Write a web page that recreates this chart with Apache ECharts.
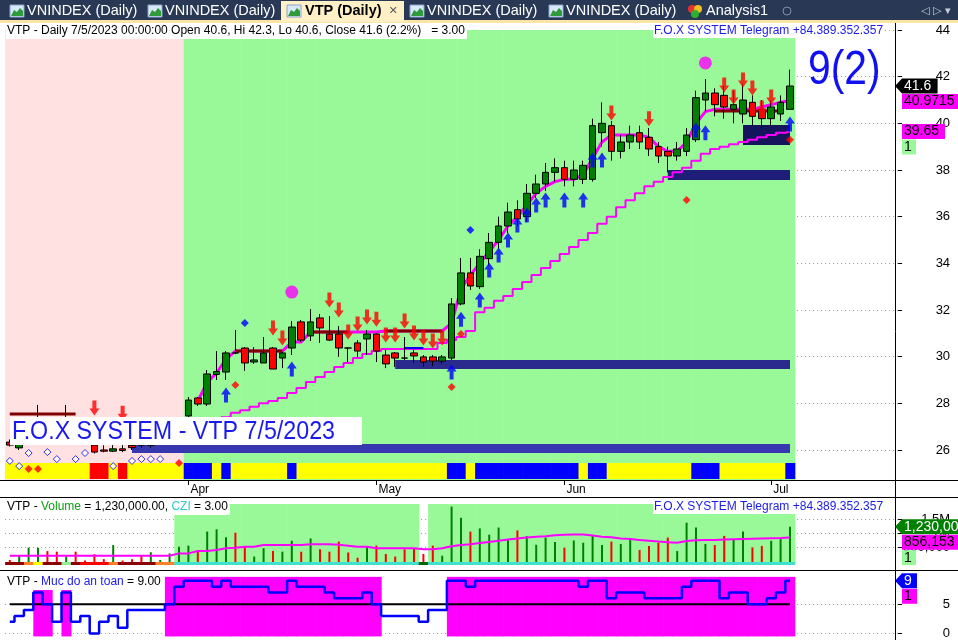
<!DOCTYPE html>
<html>
<head>
<meta charset="utf-8">
<script src="https://cdn.jsdelivr.net/npm/echarts@6/dist/echarts.min.js"></script>
<style>
  html, body { margin: 0; padding: 0; background: #fff; }
  #chart { width: 958px; height: 640px; }
</style>
</head>
<body>
<div id="chart"></div>
<script>
// trading days shown on the chart
const marDays = [7, 8, 9, 10, 13, 14, 15, 16, 17, 20, 21, 22, 23, 24, 27, 28, 29, 30, 31]
const aprDays = [3, 4, 5, 6, 7, 10, 11, 12, 13, 14, 17, 18, 19, 20, 21, 24, 25, 26, 27, 28]
const mayDays = [4, 5, 8, 9, 10, 11, 12, 15, 16, 17, 18, 19, 22, 23, 24, 25, 26, 29, 30, 31]
const junDays = [1, 2, 5, 6, 7, 8, 9, 12, 13, 14, 15, 16, 19, 20, 21, 22, 23, 26, 27, 28, 29, 30]
const julDays = [3, 4, 5]
const monthNames = ['Mar', 'Apr', 'May', 'Jun', 'Jul']
const emptySlots = 11

const opens = [
  26.34, 26.09, 26.8, 27.0, 27.3, 27.0, 26.9, 27.3, 26.9, 26.21, 26.0, 25.95, 26.05, 26.2, 26.3, 26.2, 26.5, 26.7, 26.9,
  27.46, 28.23, 27.97, 29.24, 29.34, 30.16, 30.37, 29.77, 29.73, 30.37, 29.94, 30.37, 31.49, 30.89, 31.66, 30.97,
  30.97, 30.37, 30.59, 30.76, 30.97, 30.07, 30.16, 29.94, 30.16, 29.99, 29.99, 29.81, 29.94, 32.26, 33.59,
  33.0, 34.2, 34.9, 35.6, 36.3, 36.0, 37.0, 37.4, 37.9, 38.1, 37.6, 37.6, 37.6, 39.6, 39.9, 38.8, 39.2,
  39.6, 39.4, 39.0, 38.8, 38.6, 38.8, 39.3, 41.0, 41.3, 41.2, 40.6, 40.4, 40.9, 40.6, 40.2, 40.4, 40.6,
]
const highs = [
  26.45, 26.35, 27.3, 27.93, 27.35, 27.2, 27.93, 27.35, 27.0, 26.5, 26.2, 26.21, 26.21, 26.4, 26.5, 26.6, 26.8, 27.1, 27.35,
  28.27, 28.27, 29.43, 30.24, 30.24, 31.14, 30.41, 30.41, 30.84, 30.41, 30.2, 31.53, 31.57, 32.04, 31.83, 31.74,
  31.31, 30.41, 30.71, 31.14, 31.0, 30.29, 30.2, 30.84, 30.41, 30.07, 30.07, 30.07, 32.51, 34.23, 34.23,
  34.6, 35.3, 36.0, 36.6, 36.7, 37.4, 37.8, 38.3, 38.5, 38.4, 38.4, 38.4, 40.2, 40.9, 40.1, 39.5, 39.9,
  39.9, 39.8, 39.2, 39.0, 39.2, 39.8, 41.4, 41.9, 41.5, 41.6, 41.4, 41.7, 41.2, 41.0, 41.0, 41.2, 42.3,
]
const lows = [
  26.15, 26.0, 26.7, 26.9, 26.9, 26.7, 26.8, 26.8, 26.4, 25.85, 25.9, 25.91, 25.91, 26.0, 26.1, 26.1, 26.4, 26.6, 26.8,
  27.37, 27.89, 27.89, 29.0, 29.0, 30.11, 29.39, 29.69, 29.73, 29.47, 29.51, 30.07, 30.63, 30.67, 30.59, 30.67,
  29.99, 29.77, 29.99, 30.07, 29.77, 29.51, 29.56, 29.86, 29.73, 29.56, 29.6, 29.7, 29.86, 32.2, 32.86,
  32.9, 33.9, 34.6, 35.3, 35.6, 35.8, 36.8, 37.1, 37.5, 37.3, 37.3, 37.4, 37.5, 39.0, 38.4, 38.5, 38.9,
  38.9, 38.6, 38.3, 37.9, 38.4, 38.6, 39.2, 40.5, 40.3, 40.2, 40.0, 40.0, 39.9, 39.8, 39.9, 40.1, 40.6,
]
const closes = [
  26.21, 26.3, 27.2, 27.35, 27.0, 26.8, 27.3, 26.9, 26.5, 25.91, 25.95, 26.05, 25.98, 26.1, 26.2, 26.5, 26.7, 27.0, 27.3,
  28.14, 27.97, 29.26, 29.36, 30.16, 30.16, 29.73, 29.86, 30.16, 29.47, 30.16, 31.27, 30.71, 31.49, 31.23, 30.71,
  30.37, 30.37, 30.24, 30.97, 30.24, 29.69, 29.94, 29.94, 30.03, 29.77, 29.81, 29.99, 32.26, 33.59, 33.03,
  34.3, 34.9, 35.6, 36.2, 35.9, 37.0, 37.4, 37.9, 38.1, 37.6, 38.0, 38.2, 39.9, 40.0, 38.8, 39.2, 39.5,
  39.2, 38.9, 38.6, 38.6, 38.9, 39.5, 41.1, 41.3, 40.8, 40.7, 40.8, 41.0, 40.3, 40.2, 40.7, 40.9, 41.6,
]

// stepped trailing stop and the line that hugs price
const trailStop = [
  null, null, null, null, null, null, null, null, null, null, null, null, null, null, null, null, null, null, null,
  null, null, null, 27.3, 27.4, 27.6, 27.7, 27.85, 28.0, 28.1, 28.23, 28.44, 28.66, 28.91, 29.13, 29.34,
  29.56, 29.73, 29.94, 30.11, 30.24, 30.33, 30.33, 30.33, 30.33, 30.33, 30.33, 30.59, 30.71, 30.84, 31.1,
  31.9, 32.1, 32.4, 32.6, 32.9, 33.2, 33.5, 33.8, 34.1, 34.4, 34.7, 35.0, 35.3, 35.7, 36.0, 36.4, 36.7,
  37.0, 37.3, 37.5, 37.7, 37.9, 38.1, 38.4, 38.7, 38.9, 39.0, 39.1, 39.2, 39.3, 39.4, 39.5, 39.6, 39.65,
]
const midLine = [
  null, null, null, null, null, null, null, null, null, null, null, null, null, null, null, null, null, null, null,
  null, 28.1, 28.9, 29.3, 29.9, 30.24, 30.24, 30.24, 30.24, 30.24, 30.24, 30.63, 30.63, 31.06, 31.06, 31.06,
  31.06, 31.06, 31.06, 31.06, 31.06, 31.1, 31.1, 31.1, 31.1, 31.1, 31.1, 31.1, 31.44, 32.9, 33.5,
  34.0, 34.5, 35.0, 35.6, 36.0, 36.5, 37.0, 37.3, 37.5, 37.6, 37.6, 37.8, 38.5, 39.2, 39.5, 39.5, 39.5,
  39.5, 39.4, 39.0, 38.8, 38.8, 39.2, 40.0, 40.5, 40.6, 40.6, 40.6, 40.6, 40.6, 40.7, 40.8, 40.9, 40.9715,
]
// dark red flat segments: [first bar, last bar, level]
const resistLines = [[0, 7, 27.54], [24, 29, 30.24], [32, 36, 31.06], [40, 46, 31.1], [75, 82, 40.53]]
const blueLines = [[42, 44, 30.37]]
// navy zones: [first bar, last bar, low, high]
const zones = [[13, 83, 25.87, 26.26], [41, 83, 29.47, 29.86], [70, 83, 37.57, 38.0], [78, 83, 39.07, 39.93]]

const sellArrows = [[9, 27.8], [12, 27.58], [28, 31.23], [29, 30.8], [34, 32.43], [35, 32.0], [36, 31.06],
  [37, 31.4], [38, 31.7], [39, 31.6], [40, 30.93], [41, 30.93], [42, 31.53], [43, 31.01], [44, 30.8],
  [45, 30.67], [46, 30.8], [64, 40.44], [68, 40.2], [76, 41.64], [77, 41.13], [78, 41.86], [79, 41.51],
  [80, 40.66], [81, 41.13]]
const buyArrows = [[23, 28.36], [30, 29.47], [47, 29.34], [48, 31.6], [50, 32.43], [51, 33.71], [52, 34.36],
  [53, 35.0], [54, 35.64], [55, 36.07], [56, 36.5], [57, 36.71], [59, 36.71], [61, 36.71], [62, 38.43],
  [63, 38.43], [73, 39.71], [74, 39.6], [83, 39.97]]
const redDots = [[24, 28.79], [47, 28.7], [48, 30.97], [72, 36.71], [83, 39.3], [2, 25.19], [3, 25.19],
  [18, 25.44], [11, 24.7]]
const blueDots = [[25, 31.44], [49, 35.43]]
const hollowDots = [[0, 25.53], [1, 25.31], [2, 25.87], [4, 25.91], [5, 25.61], [7, 25.61], [8, 25.87],
  [11, 25.31], [13, 25.53], [14, 25.61], [15, 25.61], [16, 25.61]]
const bigDots = [[30, 32.77], [74, 42.59]]

// background and state bands, one code per bar
const bgZone = 'PPPPPPPPPPPPPPPPPPP' + 'GGGGGGGGGGGGGGGGGGGGGGGGGGGGGGGGGGGGGGGGGGGGGGGGGGGGGGGGGGGGGGGGG'
const bandCode = ['YYYYYYYYY', 'RR', 'Y', 'R', 'YYYYYY', 'BBB', 'Y', 'B', 'YYYYYY', 'B', 'YYYYYYYYYYYYYYYY',
  'BB', 'Y', 'BBBBBBBBBBB', 'Y', 'BB', 'YYYYYYYYY', 'BBB', 'YYYYYYY', 'B'].join('')
const volBand = ['DD', 'O', 'Y', 'DD', 'L', 'D', 'RRR', 'O', 'DDDD', 'OO', 'TTTTTTTTTTTTTTTTTTTTTTTTTT', 'G',
  'TTTTTTTTTTTTTTTTTTTTTTTTTTTTTTTTTTTTTTT'].join('')

const volumes = [
  70000, 210000, 500000, 500000, 380000, 360000, 190000, 360000, 50000, 270000, 100000, 590000, 50000,
  100000, 220000, 340000, 70000, 300000, 530000, 570000, 360000, 1060000, 1140000, 860000, 1020000,
  530000, 190000, 480000, 380000, 360000, 740000, 360000, 820000, 440000, 360000, 710000, 330000,
  150000, 530000, 570000, 280000, 190000, 440000, 480000, 280000, 570000, 220000, 1930000, 1540000,
  1060000, 1170000, 950000, 1200000, 800000, 1100000, 900000, 600000, 850000, 700000, 500000, 750000,
  670000, 910000, 590000, 710000, 630000, 770000, 420000, 560000, 670000, 850000, 380000, 1370000,
  1200000, 630000, 590000, 910000, 800000, 1060000, 510000, 560000, 740000, 800000, 1230000,
]
const volAvg = [
  220000, 220000, 220000, 220000, 220000, 220000, 220000, 220000, 220000, 220000, 220000, 220000, 220000,
  220000, 220000, 220000, 220000, 220000, 300000, 300000, 380000, 380000, 420000, 480000, 500000, 530000,
  530000, 590000, 590000, 590000, 590000, 590000, 620000, 620000, 620000, 600000, 570000, 530000, 530000,
  480000, 480000, 480000, 480000, 480000, 440000, 440000, 480000, 550000, 590000, 620000, 660000, 700000,
  740000, 780000, 820000, 850000, 880000, 900000, 930000, 950000, 960000, 960000, 920000, 880000, 860000,
  820000, 800000, 770000, 740000, 710000, 690000, 670000, 730000, 760000, 770000, 770000, 780000, 790000,
  800000, 810000, 820000, 830000, 840000, 856153,
]
const safety = [2, 3, 4, 7, 5, 2, 7, 2, 3, 0, 2, 3, 1, 4, 4, 4, 4, 5, 8, 9, 9, 9, 8, 9, 8, 8, 8, 8, 7, 7, 9, 8,
  8, 8, 7, 6, 6, 6, 7, 5, 3, 3, 3, 3, 2, 4, 4, 9, 9, 8, 9, 9, 9, 9, 9, 9, 9, 9, 9, 9, 9, 8, 9, 9, 6, 7,
  7, 7, 6, 6, 6, 6, 8, 9, 9, 9, 6, 7, 7, 5, 5, 6, 7, 9]

const priceTicks = [26, 28, 30, 32, 34, 36, 38, 40, 42, 44]
const volTicks = [500000, 1000000, 1500000]
const safetyTicks = [0, 5]

// ---- derived lookups ----
const dates = []
const monthStart = {}
;[marDays, aprDays, mayDays, junDays, julDays].forEach((days, m) => {
  days.forEach((d, k) => {
    if (k === 0 && dates.length > 0) monthStart[dates.length] = monthNames[m]
    dates.push(m + 3 + '/' + d + '/2023')
  })
})
const nBars = dates.length
const categories = dates.concat(Array.from({ length: emptySlots }, (_, k) => 'pad' + k))

const bgColors = { P: '#FFE1E1', G: '#99F999' }
const bandColors = { Y: '#FFFF00', B: '#0000FF', R: '#FF0000' }
const volBandColors = { D: '#8B0000', O: '#FF7F27', Y: '#FFFF00', L: '#90EE90', R: '#FF0000', T: '#40E0D0', G: '#006400' }
const FONT = '"Liberation Sans", Arial, sans-serif'

const segSeries = (segs) => {
  const arr = new Array(nBars).fill(null)
  segs.forEach(([a, b, v]) => { for (let i = a; i <= b; i++) arr[i] = v })
  return arr
}
const idxData = (s) => s.split('').map((c, i) => [i, 0])

const L = 5.1, R = 59.9
const chart = echarts.init(document.getElementById('chart'))

const catAxis = (gridIndex, extra) => Object.assign({
  type: 'category', gridIndex, data: categories, boundaryGap: true,
  axisLine: { show: false }, axisTick: { show: false }, axisLabel: { show: false }, splitLine: { show: false },
}, extra)

const rightAxis = (gridIndex, min, max, ticks, fmt) => ({
  type: 'value', gridIndex, position: 'right', min, max, scale: true,
  axisLine: { show: false },
  axisTick: { show: !!ticks, customValues: ticks, length: 4, lineStyle: { color: '#000' } },
  axisLabel: {
    show: !!ticks, customValues: ticks, align: 'right', margin: 52, color: '#000',
    fontSize: 13, fontFamily: FONT, formatter: fmt,
  },
  splitLine: { show: !!ticks, lineStyle: { color: '#9a9a9a', type: [1, 3] } },
})

const arrowDown = 'path://M3,0 L7,0 L7,8 L10,8 L5,15 L0,8 L3,8 Z'
const arrowUp = 'path://M5,0 L10,7 L7,7 L7,15 L3,15 L3,7 L0,7 Z'

const option = {
  animation: false,
  backgroundColor: '#fff',
  grid: [
    { left: L, right: R, top: 22, height: 458 },
    { left: L, right: R, top: 463, height: 17 },
    { left: L, right: R, top: 504, height: 58 },
    { left: L, right: R, top: 572, height: 68 },
  ],
  xAxis: [
    catAxis(0),
    catAxis(1, {
      axisTick: {
        show: true, alignWithLabel: true, length: 5, lineStyle: { color: '#000' },
        interval: (i) => monthStart[i] !== undefined,
      },
      axisLabel: {
        show: true, interval: (i) => monthStart[i] !== undefined, formatter: (v, i) => monthStart[i] || '',
        align: 'left', margin: 4, color: '#000', fontSize: 12, fontFamily: FONT, padding: [0, 0, 0, 2],
      },
    }),
    catAxis(2),
    catAxis(3),
  ],
  yAxis: [
    rightAxis(0, 24.714, 44.343, priceTicks),
    { type: 'value', gridIndex: 1, min: 0, max: 1, show: false },
    rightAxis(2, 0, 2020000, volTicks, (v) => (v >= 1000000 ? v / 1000000 + 'M' : v.toLocaleString('en-US'))),
    rightAxis(3, -0.8333, 10.5, safetyTicks),
  ],
  series: [
    {
      type: 'custom', xAxisIndex: 0, yAxisIndex: 0, z: 1, silent: true, data: idxData(bgZone),
      renderItem(params, api) {
        const i = api.value(0)
        const top = api.coord([i, 44])
        const w = api.size([1, 0])[0]
        const cs = params.coordSys
        return {
          type: 'rect',
          shape: { x: top[0] - w / 2, y: top[1], width: w + 0.6, height: cs.y + cs.height - top[1] },
          style: { fill: bgColors[bgZone[params.dataIndex]] },
        }
      },
    },
    {
      type: 'custom', xAxisIndex: 0, yAxisIndex: 0, z: 2, silent: true, data: zones,
      renderItem(params, api) {
        const a = api.coord([api.value(0), api.value(3)])
        const b = api.coord([api.value(1), api.value(2)])
        const colors = ['#3737B0', '#2A2A8E', '#1E1E78', '#15155E']
        return {
          type: 'rect', shape: { x: a[0], y: a[1], width: b[0] - a[0], height: b[1] - a[1] },
          style: { fill: colors[params.dataIndex] },
        }
      },
    },
    {
      name: 'Trail', type: 'line', xAxisIndex: 0, yAxisIndex: 0, z: 3, data: trailStop, step: 'middle',
      symbol: 'none', lineStyle: { color: '#FF00FF', width: 2 },
    },
    {
      name: 'Mid', type: 'line', xAxisIndex: 0, yAxisIndex: 0, z: 3, data: midLine,
      symbol: 'none', lineStyle: { color: '#FF00FF', width: 3 },
    },
    {
      type: 'line', xAxisIndex: 0, yAxisIndex: 0, z: 4, data: segSeries(resistLines),
      symbol: 'none', lineStyle: { color: '#800000', width: 3 },
    },
    {
      type: 'line', xAxisIndex: 0, yAxisIndex: 0, z: 4, data: segSeries(blueLines),
      symbol: 'none', lineStyle: { color: '#0000FF', width: 2 },
    },
    {
      name: 'VTP', type: 'candlestick', xAxisIndex: 0, yAxisIndex: 0, z: 5, barWidth: 7,
      data: opens.map((o, i) => [o, closes[i], lows[i], highs[i]]),
      itemStyle: { color: '#008000', color0: '#FF0000', borderColor: '#000', borderColor0: '#000', borderWidth: 1 },
    },
    {
      type: 'scatter', xAxisIndex: 0, yAxisIndex: 0, z: 6, data: sellArrows, symbol: arrowDown,
      symbolSize: [10, 15], itemStyle: { color: '#FF0000' },
    },
    {
      type: 'scatter', xAxisIndex: 0, yAxisIndex: 0, z: 6, data: buyArrows, symbol: arrowUp,
      symbolSize: [10, 15], itemStyle: { color: '#0000FF' },
    },
    {
      type: 'scatter', xAxisIndex: 0, yAxisIndex: 0, z: 6, data: redDots, symbol: 'diamond',
      symbolSize: 8, itemStyle: { color: '#FF0000' },
    },
    {
      type: 'scatter', xAxisIndex: 0, yAxisIndex: 0, z: 6, data: blueDots, symbol: 'diamond',
      symbolSize: 8, itemStyle: { color: '#0000FF' },
    },
    {
      type: 'scatter', xAxisIndex: 0, yAxisIndex: 0, z: 6, data: hollowDots, symbol: 'diamond',
      symbolSize: 7, itemStyle: { color: '#fff', borderColor: '#0000FF', borderWidth: 1 },
    },
    {
      type: 'scatter', xAxisIndex: 0, yAxisIndex: 0, z: 6, data: bigDots, symbol: 'circle',
      symbolSize: 13, itemStyle: { color: '#FF00FF' },
    },
    {
      type: 'custom', xAxisIndex: 1, yAxisIndex: 1, z: 3, silent: true, data: idxData(bandCode),
      renderItem(params, api) {
        const c = api.coord([api.value(0), 0])
        const w = api.size([1, 0])[0]
        const cs = params.coordSys
        return {
          type: 'rect', shape: { x: c[0] - w / 2, y: cs.y, width: w + 0.6, height: cs.height - 1 },
          style: { fill: bandColors[bandCode[params.dataIndex]] },
        }
      },
    },
    {
      type: 'custom', xAxisIndex: 2, yAxisIndex: 2, z: 1, silent: true, data: idxData(volBand),
      renderItem(params, api) {
        const c = api.coord([api.value(0), 0])
        const w = api.size([1, 0])[0]
        const cs = params.coordSys
        const code = volBand[params.dataIndex]
        const kids = []
        if (code === 'T') {
          kids.push({ type: 'rect', shape: { x: c[0] - w / 2, y: cs.y, width: w + 0.6, height: cs.height }, style: { fill: '#99F999' } })
        }
        kids.push({ type: 'rect', shape: { x: c[0] - w / 2, y: c[1], width: w + 0.6, height: 3 }, style: { fill: volBandColors[code] } })
        return { type: 'group', children: kids }
      },
    },
    {
      name: 'Volume', type: 'bar', xAxisIndex: 2, yAxisIndex: 2, z: 3, barWidth: 2,
      data: volumes.map((v, i) => ({ value: v, itemStyle: { color: closes[i] > opens[i] ? '#008000' : '#FF0000' } })),
    },
    {
      type: 'line', xAxisIndex: 2, yAxisIndex: 2, z: 4, data: volAvg, symbol: 'none',
      lineStyle: { color: '#FF00FF', width: 2 },
    },
    {
      type: 'custom', xAxisIndex: 3, yAxisIndex: 3, z: 1, silent: true, data: safety.map((v, i) => [i, v]),
      renderItem(params, api) {
        if (api.value(1) < 5) return null
        const a = api.coord([api.value(0), 9.67])
        const b = api.coord([api.value(0), -0.5])
        const w = api.size([1, 0])[0]
        return {
          type: 'rect', shape: { x: a[0] - w / 2, y: a[1], width: w + 0.6, height: b[1] - a[1] },
          style: { fill: '#FF00FF' },
        }
      },
    },
    {
      type: 'line', xAxisIndex: 3, yAxisIndex: 3, z: 3, data: safety.map(() => 5), symbol: 'none',
      lineStyle: { color: '#000', width: 2 },
    },
    {
      name: 'Muc do an toan', type: 'line', xAxisIndex: 3, yAxisIndex: 3, z: 4, data: safety, step: 'middle',
      symbol: 'none', lineStyle: { color: '#0000FF', width: 2.5 },
    },
  ],
}

chart.setOption(option)

// ---- chrome: tabs, titles, separators, value markers ----
const txt = (x, y, text, fill, font, extra) => ({
  type: 'text', x, y, z: 50,
  style: Object.assign({ text, fill, font, verticalAlign: 'middle' }, extra),
})
const rect = (x, y, w, h, fill, z) => ({ type: 'rect', z: z || 40, shape: { x, y, width: w, height: h }, style: { fill } })
const hline = (y, x1, x2) => ({ type: 'line', z: 45, shape: { x1, y1: y, x2, y2: y }, style: { stroke: '#000', lineWidth: 1 } })

const tabIcon = (x) => [
  { type: 'rect', z: 41, shape: { x, y: 5, width: 14, height: 12 }, style: { fill: '#d8e8fb', stroke: '#8aa4c4' } },
  { type: 'polygon', z: 42, shape: { points: [[x + 1, 16], [x + 4, 10], [x + 7, 12], [x + 10, 8], [x + 13, 11], [x + 13, 16]] }, style: { fill: '#2f9a3a' } },
]

const TAB = '14.5px ' + FONT
const gfx = [
  rect(0, 0, 958, 22, '#293955'),
  rect(0, 20, 958, 3, '#FCE4A6'),
  rect(281, 1, 123, 21, '#FFF0C6'),
  ...tabIcon(10), ...tabIcon(148), ...tabIcon(287), ...tabIcon(410), ...tabIcon(549),
  txt(27, 11, 'VNINDEX (Daily)', '#fff', TAB),
  txt(165, 11, 'VNINDEX (Daily)', '#fff', TAB),
  txt(305, 11, 'VTP (Daily)', '#000', 'bold ' + TAB),
  txt(389, 11, '×', '#555', TAB),
  txt(427, 11, 'VNINDEX (Daily)', '#fff', TAB),
  txt(566, 11, 'VNINDEX (Daily)', '#fff', TAB),
  { type: 'circle', z: 42, shape: { cx: 692, cy: 9, r: 4 }, style: { fill: '#e83030' } },
  { type: 'circle', z: 42, shape: { cx: 698, cy: 9, r: 4 }, style: { fill: '#f0c020' } },
  { type: 'circle', z: 42, shape: { cx: 695, cy: 14, r: 4 }, style: { fill: '#30b030' } },
  txt(706, 11, 'Analysis1', '#fff', TAB),
  { type: 'circle', z: 42, shape: { cx: 787, cy: 11, r: 4 }, style: { fill: 'none', stroke: '#8090a8', lineWidth: 1 } },
  txt(921, 11, '◁ ▷ ▾', '#c8d0dc', '11px "DejaVu Sans"'),

  hline(480.5, 0, 958), hline(497.5, 0, 958), hline(570.5, 0, 958),
  { type: 'line', z: 45, shape: { x1: 895.5, y1: 23, x2: 895.5, y2: 640 }, style: { stroke: '#000', lineWidth: 1 } },

  txt(6, 31, 'VTP - Daily 7/5/2023 00:00:00 Open 40.6, Hi 42.3, Lo 40.6, Close 41.6 (2.2%)   = 3.00', '#000',
    '12px ' + FONT, { backgroundColor: '#fff', padding: [2, 2, 2, 1] }),
  txt(653, 31, 'F.O.X SYSTEM Telegram +84.389.352.357', '#1a1aee', '12px ' + FONT, { backgroundColor: '#fff', padding: [1, 1] }),
  { type: 'text', x: 808, y: 71, z: 50, scaleX: 0.85, style: { text: '9(2)', fill: '#1010F0', font: '48px ' + FONT, verticalAlign: 'middle' } },
  rect(10, 417, 352, 28, '#fff', 48),
  { type: 'text', x: 12, y: 432, z: 50, scaleX: 0.93, style: { text: 'F.O.X SYSTEM - VTP 7/5/2023', fill: '#1a1aee', font: '25px ' + FONT, verticalAlign: 'middle' } },

  txt(6, 507, '', '#000', '12px ' + FONT, {
    text: '{k|VTP - }{g|Volume}{k| = 1,230,000.00, }{c|CZI}{k| = 3.00}', backgroundColor: '#fff', padding: [2, 2, 2, 1],
    rich: { k: { fill: '#000', font: '12px ' + FONT }, g: { fill: '#10a010', font: '12px ' + FONT }, c: { fill: '#30c8c8', font: '12px ' + FONT } },
  }),
  txt(653, 507, 'F.O.X SYSTEM Telegram +84.389.352.357', '#1a1aee', '12px ' + FONT, { backgroundColor: '#fff', padding: [1, 1] }),
  txt(6, 582, '', '#000', '12px ' + FONT, {
    text: '{k|VTP - }{b|Muc do an toan}{k| = 9.00}', backgroundColor: '#fff', padding: [2, 2, 2, 1],
    rich: { k: { fill: '#000', font: '12px ' + FONT }, b: { fill: '#1a1aee', font: '12px ' + FONT } },
  }),
]

// value markers on the right axis, stacked downwards when they collide
const markers = (axisIndex, list) => {
  let last = -Infinity
  list.forEach((m) => {
    let y = m.value !== undefined ? chart.convertToPixel({ yAxisIndex: axisIndex }, m.value) : last + 15.5
    if (y < last + 15.5) y = last + 15.5
    last = y
    const w = m.width || m.text.length * 7.4 + 6
    const x = 902
    if (m.arrow) {
      gfx.push({ type: 'polygon', z: 55, shape: { points: [[895, y], [x, y - 7.5], [x, y + 7.5]] }, style: { fill: m.bg } })
    }
    gfx.push({ type: 'rect', z: 55, shape: { x, y: y - 7.5, width: w, height: 15 }, style: { fill: m.bg } })
    gfx.push({ type: 'text', z: 56, x: x + 2, y, style: { text: m.text, fill: m.fg, font: '14px ' + FONT, verticalAlign: 'middle' } })
  })
}
markers(0, [
  { value: closes[nBars - 1], text: '41.6', bg: '#000', fg: '#fff', arrow: true },
  { value: midLine[nBars - 1], text: '40.9715', bg: '#FF00FF', fg: '#000' },
  { value: trailStop[nBars - 1], text: '39.65', bg: '#FF00FF', fg: '#000' },
  { text: '1', bg: '#99F999', fg: '#000', width: 14 },
])
markers(2, [
  { value: volumes[nBars - 1], text: '1,230,000', bg: '#008000', fg: '#fff', arrow: true, width: 60 },
  { value: volAvg[nBars - 1], text: '856,153', bg: '#FF00FF', fg: '#000' },
  { text: '1', bg: '#99F999', fg: '#000', width: 14 },
])
markers(3, [
  { value: safety[nBars - 1], text: '9', bg: '#0000FF', fg: '#fff', arrow: true, width: 15 },
  { text: '1', bg: '#FF00FF', fg: '#000', width: 15 },
])

chart.setOption({ graphic: { elements: gfx } })
</script>
</body>
</html>
